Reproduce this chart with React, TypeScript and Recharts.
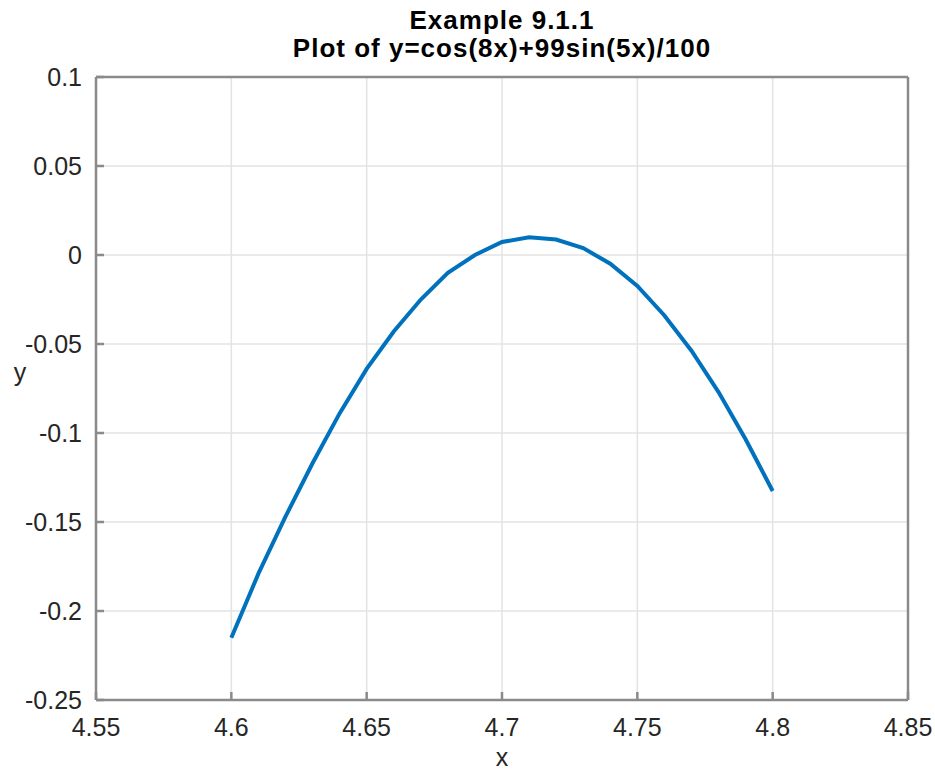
import React from 'react';
import { LineChart, Line, XAxis, YAxis, CartesianGrid, Label } from 'recharts';

const xValues = [4.6, 4.61, 4.62, 4.63, 4.64, 4.65, 4.66, 4.67, 4.68, 4.69, 4.7, 4.71, 4.72, 4.73, 4.74, 4.75, 4.76, 4.77, 4.78, 4.79, 4.8];
const yValues = [-0.215, -0.179, -0.147, -0.117, -0.089, -0.064, -0.043, -0.025, -0.01, 0.0, 0.0073, 0.0099, 0.0087, 0.0039, -0.0049, -0.0174, -0.034, -0.0538, -0.077, -0.1035, -0.1326];

const xTicks = [4.55, 4.6, 4.65, 4.7, 4.75, 4.8, 4.85];
const yTicks = [-0.25, -0.2, -0.15, -0.1, -0.05, 0, 0.05, 0.1];

const data = xValues.map((x, i) => ({ x, y: yValues[i] }));

const font = '"Liberation Sans", Arial, Helvetica, sans-serif';
const axisGray = '#8a8a8a';
const textGray = '#262626';

const App: React.FC = () => {
  return (
    <div style={{ position: 'absolute', left: 0, top: 0, width: 935, height: 775, background: '#fff', fontFamily: font }}>
      <div
        style={{
          position: 'absolute',
          left: 96,
          width: 812,
          top: 6,
          textAlign: 'center',
          fontWeight: 'bold',
          fontSize: 26,
          letterSpacing: 1,
          lineHeight: '28px',
          color: '#000',
        }}
      >
        <div>Example 9.1.1</div>
        <div>Plot of y=cos(8x)+99sin(5x)/100</div>
      </div>
      <LineChart width={935} height={775} data={data} margin={{ top: 76, right: 26, bottom: 0, left: 0 }}>
        <CartesianGrid stroke="#e3e3e3" strokeWidth={1.5} />
        <XAxis
          dataKey="x"
          type="number"
          domain={[4.55, 4.85]}
          ticks={xTicks}
          tickFormatter={(v: number) => String(v)}
          height={75}
          stroke={axisGray}
          strokeWidth={2.5}
          tickSize={-8}
          tickMargin={26}
          tick={{ fill: textGray, fontSize: 25, fontFamily: font }}
        >
          <Label
            content={({ viewBox }: any) => (
              <text x={viewBox.x + viewBox.width / 2} y={viewBox.y + 66} textAnchor="middle" fontSize={25} fill={textGray} fontFamily={font}>
                x
              </text>
            )}
          />
        </XAxis>
        <XAxis
          xAxisId="top"
          orientation="top"
          type="number"
          domain={[4.55, 4.85]}
          ticks={xTicks}
          height={1}
          stroke={axisGray}
          strokeWidth={2.5}
          tickSize={-8}
          tick={false}
        />
        <YAxis
          type="number"
          domain={[-0.25, 0.1]}
          ticks={yTicks}
          tickFormatter={(v: number) => String(v)}
          width={96}
          stroke={axisGray}
          strokeWidth={2.5}
          tickSize={-8}
          tickMargin={22}
          tick={{ fill: textGray, fontSize: 25, fontFamily: font }}
        >
          <Label
            content={({ viewBox }: any) => (
              <text x={20} y={viewBox.y + viewBox.height / 2 - 8} textAnchor="middle" fontSize={25} fill={textGray} fontFamily={font}>
                y
              </text>
            )}
          />
        </YAxis>
        <YAxis
          yAxisId="right"
          orientation="right"
          type="number"
          domain={[-0.25, 0.1]}
          ticks={yTicks}
          width={1}
          stroke={axisGray}
          strokeWidth={2.5}
          tickSize={-8}
          tick={false}
        />
        <Line
          type="linear"
          dataKey="y"
          stroke="#0072BD"
          strokeWidth={4}
          dot={false}
          isAnimationActive={false}
        />
      </LineChart>
    </div>
  );
};

export default App;
